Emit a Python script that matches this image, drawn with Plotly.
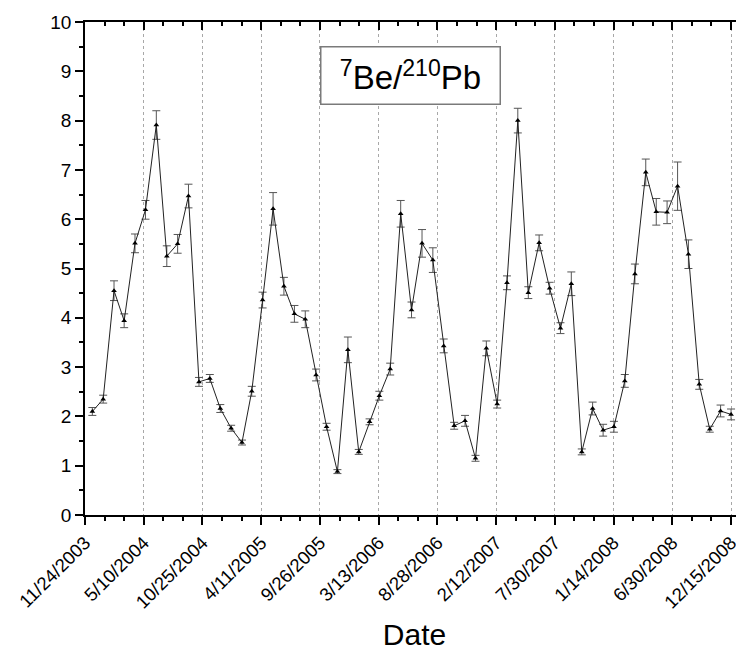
import plotly.graph_objects as go

# Monthly sampling dates (mid-month), Dec 2003 .. Dec 2008
months = [(2003, 12)] + [(y, m) for y in range(2004, 2009) for m in range(1, 13)]
dates = [f"{y}-{m:02d}-15" for (y, m) in months]

ratio = [2.10, 2.35, 4.55, 3.94, 5.51, 6.19, 7.91, 5.25, 5.50, 6.47, 2.70, 2.77,
         2.16, 1.76, 1.47, 2.51, 4.36, 6.21, 4.64, 4.08, 3.97, 2.84, 1.79, 0.88,
         3.35, 1.28, 1.89, 2.42, 2.96, 6.11, 4.16, 5.51, 5.17, 3.43, 1.81, 1.91,
         1.15, 3.38, 2.25, 4.71, 8.00, 4.51, 5.52, 4.60, 3.79, 4.69, 1.28, 2.16,
         1.72, 1.79, 2.72, 4.89, 6.95, 6.15, 6.14, 6.67, 5.29, 2.65, 1.74, 2.11,
         2.04]

ratio_err = [0.08, 0.08, 0.20, 0.14, 0.19, 0.19, 0.29, 0.21, 0.19, 0.24, 0.09, 0.08,
             0.08, 0.06, 0.05, 0.10, 0.16, 0.33, 0.18, 0.17, 0.17, 0.12, 0.07, 0.04,
             0.26, 0.05, 0.06, 0.09, 0.12, 0.27, 0.16, 0.28, 0.25, 0.14, 0.07, 0.11,
             0.06, 0.15, 0.08, 0.14, 0.25, 0.12, 0.16, 0.12, 0.11, 0.24, 0.06, 0.13,
             0.12, 0.11, 0.13, 0.20, 0.27, 0.27, 0.23, 0.49, 0.29, 0.10, 0.06, 0.12,
             0.11]

tick_dates = ["2003-11-24", "2004-05-10", "2004-10-25", "2005-04-11", "2005-09-26",
              "2006-03-13", "2006-08-28", "2007-02-12", "2007-07-30", "2008-01-14",
              "2008-06-30", "2008-12-15"]
tick_labels = ["11/24/2003", "5/10/2004", "10/25/2004", "4/11/2005", "9/26/2005",
               "3/13/2006", "8/28/2006", "2/12/2007", "7/30/2007", "1/14/2008",
               "6/30/2008", "12/15/2008"]

FONT = "Liberation Sans, Arial, sans-serif"
DAY_MS = 86400000

fig = go.Figure()
fig.add_trace(go.Scatter(
    x=dates, y=ratio, mode="lines+markers",
    line=dict(color="#222222", width=1),
    marker=dict(symbol="triangle-up", size=5, color="black"),
    error_y=dict(type="data", array=ratio_err, visible=True,
                 color="#555555", thickness=1, width=4),
    showlegend=False,
))
# helper trace so the top (mirrored) axis is drawn
fig.add_trace(go.Scatter(x=dates, y=ratio, xaxis="x2", mode="lines",
                         line=dict(width=0, color="rgba(0,0,0,0)"),
                         showlegend=False, hoverinfo="skip"))

xrange = ["2003-11-24", "2009-01-21"]

fig.update_layout(
    width=736, height=646,
    margin=dict(l=77, r=0, t=14, b=139),
    paper_bgcolor="white", plot_bgcolor="white",
    font=dict(family=FONT, color="black"),
    xaxis=dict(
        range=xrange, type="date", automargin=False,
        tickmode="array", tickvals=tick_dates, ticktext=tick_labels,
        tickangle=-45, tickfont=dict(size=18.5),
        ticks="outside", ticklen=8, tickwidth=1.5, tickcolor="black",
        minor=dict(tick0="2003-11-24", dtick=56 * DAY_MS, ticks="outside",
                   ticklen=4, tickwidth=1.5, tickcolor="black", showgrid=False),
        showline=True, linecolor="black", linewidth=1.5,
        showgrid=True, gridcolor="#a8a8a8", griddash="dot", gridwidth=1,
        zeroline=False,
        title=dict(text="Date", font=dict(size=30), standoff=12),
    ),
    xaxis2=dict(
        overlaying="x", side="top", matches="x", range=xrange, type="date",
        automargin=False,
        tickmode="array", tickvals=tick_dates, showticklabels=False,
        ticks="inside", ticklen=8, tickwidth=1.5, tickcolor="black",
        minor=dict(tick0="2003-11-24", dtick=56 * DAY_MS, ticks="inside",
                   ticklen=4, tickwidth=1.5, tickcolor="black", showgrid=False),
        showline=True, linecolor="black", linewidth=1.5,
        showgrid=False, zeroline=False,
    ),
    yaxis=dict(
        range=[0, 10], tickmode="linear", tick0=0, dtick=1, automargin=False,
        tickfont=dict(size=19),
        ticks="outside", ticklen=8, tickwidth=1.5, tickcolor="black",
        minor=dict(dtick=0.5, ticks="outside", ticklen=4, tickwidth=1.5,
                   tickcolor="black", showgrid=False),
        showline=True, linecolor="black", linewidth=1.5,
        showgrid=False, zeroline=False,
    ),
    annotations=[dict(
        text="<sup>7</sup>Be/<sup>210</sup>Pb",
        xref="paper", yref="paper", x=0.494, y=0.891,
        xanchor="center", yanchor="middle", showarrow=False,
        font=dict(size=33, family=FONT, color="black"),
        bordercolor="#7a7a7a", borderwidth=1.5, borderpad=3,
        bgcolor="white", width=172, height=50,
    )],
)

fig.write_html("out.html")
